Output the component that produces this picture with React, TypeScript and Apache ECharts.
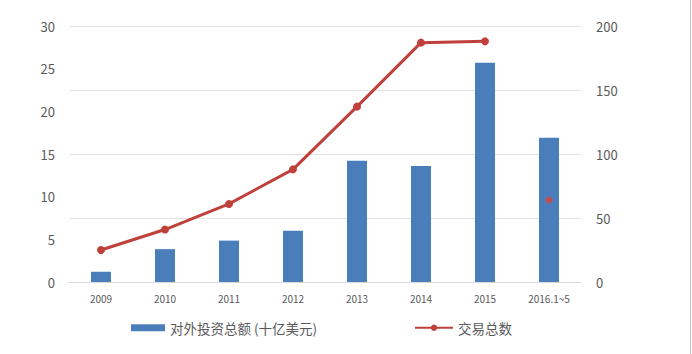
import React, { useEffect, useRef } from "react";
import * as echarts from "echarts";

const categories = ["2009", "2010", "2011", "2012", "2013", "2014", "2015", "2016.1~5"];
const investment = [1.2, 3.85, 4.85, 6.0, 14.2, 13.6, 25.7, 16.9];
const dealsLine = [25, 41, 61, 88, 137, 187, 188, null];
const dealsPartial = [null, null, null, null, null, null, null, 64];
const leftTicks = { min: 0, max: 30, interval: 5 };
const rightTicks = { min: 0, max: 200, interval: 50 };
const barName = "对外投资总额 (十亿美元)";
const lineName = "交易总数";

const BAR_COLOR = "#4a7ebb";
const LINE_COLOR = "#c0403b";
const TEXT_COLOR = "#595959";
const FONT = "'Noto Sans CJK SC', 'Noto Sans', sans-serif";

export default function App() {
  const ref = useRef<HTMLDivElement>(null);
  useEffect(() => {
    document.body.style.margin = "0";
    const chart = echarts.init(ref.current!, null, { renderer: "svg" });
    chart.setOption({
      animation: false,
      backgroundColor: "#ffffff",
      textStyle: { fontFamily: FONT },
      grid: { left: 69, right: 111, top: 26, bottom: 72 },
      graphic: [
        {
          type: "line",
          shape: { x1: 690.5, y1: 0, x2: 690.5, y2: 354 },
          style: { stroke: "#c8c8c8", lineWidth: 1 },
          silent: true,
        },
      ],
      legend: [
        {
          data: [barName],
          left: 126,
          top: 316,
          itemWidth: 34,
          itemHeight: 7,
          itemGap: 4,
          icon: "rect",
          textStyle: { color: TEXT_COLOR, fontSize: 13.5, fontFamily: FONT },
        },
        {
          data: [lineName],
          left: 409,
          top: 316,
          itemWidth: 38,
          itemHeight: 8,
          textStyle: { color: TEXT_COLOR, fontSize: 13.5, fontFamily: FONT },
        },
      ],
      xAxis: {
        type: "category",
        data: categories,
        axisLine: { lineStyle: { color: "#d9d9d9" } },
        axisTick: { show: false },
        axisLabel: { color: TEXT_COLOR, fontSize: 10, margin: 11, fontFamily: FONT },
      },
      yAxis: [
        {
          type: "value",
          ...leftTicks,
          axisLine: { show: false },
          axisTick: { show: false },
          splitLine: { show: false },
          axisLabel: { color: TEXT_COLOR, fontSize: 13, margin: 14, fontFamily: FONT },
        },
        {
          type: "value",
          ...rightTicks,
          axisLine: { show: false },
          axisTick: { show: false },
          splitLine: { show: true, lineStyle: { color: "#e3e3e3", width: 1 } },
          axisLabel: { color: TEXT_COLOR, fontSize: 13, margin: 15, fontFamily: FONT },
        },
      ],
      series: [
        {
          name: barName,
          type: "bar",
          yAxisIndex: 0,
          data: investment,
          barWidth: 20,
          itemStyle: { color: BAR_COLOR },
        },
        {
          name: lineName,
          type: "line",
          yAxisIndex: 1,
          data: dealsLine,
          symbol: "circle",
          symbolSize: 8,
          connectNulls: false,
          lineStyle: { color: LINE_COLOR, width: 3 },
          itemStyle: { color: LINE_COLOR },
        },
        {
          name: "partial",
          type: "scatter",
          yAxisIndex: 1,
          data: dealsPartial,
          symbol: "circle",
          symbolSize: 7,
          itemStyle: { color: "#d9443f" },
        },
      ],
    });
    return () => chart.dispose();
  }, []);
  return <div ref={ref} style={{ width: 692, height: 354 }} />;
}
